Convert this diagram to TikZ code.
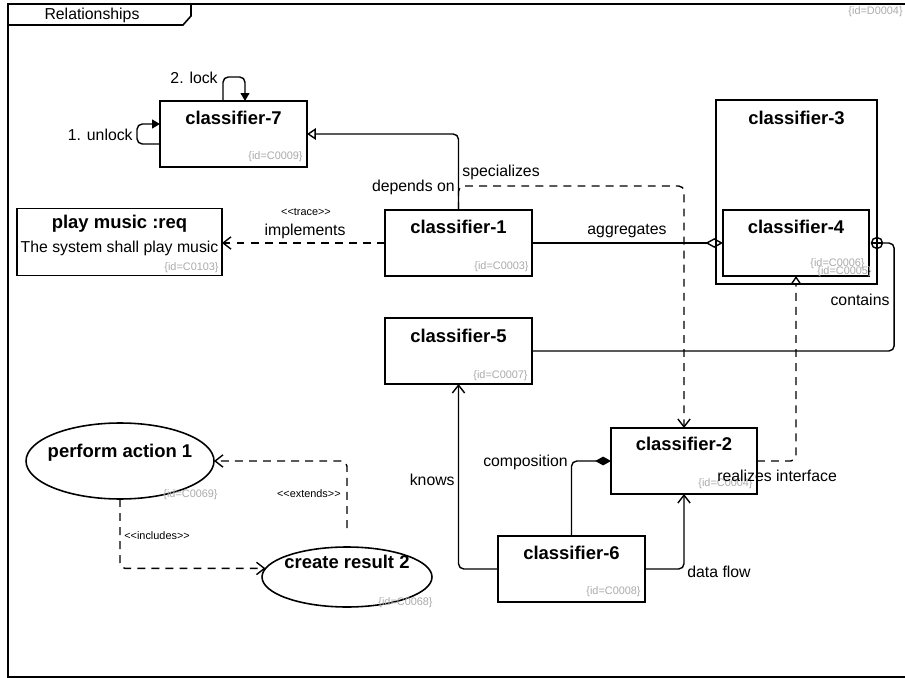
\documentclass[tikz,border=0pt]{standalone}
\usepackage{fontspec}
\setmainfont{Liberation Sans}
\usetikzlibrary{arrows.meta,shapes.geometric}

\definecolor{idgray}{RGB}{170,170,170}

\tikzset{
  cls/.style={draw,line width=1pt,inner sep=0pt,outer sep=0pt,minimum width=2.94cm,minimum height=1.32cm},
  usecase/.style={draw,ellipse,line width=0.9pt,inner sep=0pt,outer sep=0pt},
  ttl/.style={font=\fontsize{10.5}{12}\selectfont\bfseries,inner sep=0pt},
  lbl/.style={font=\fontsize{9}{11}\selectfont,inner sep=0pt},
  stereo/.style={font=\fontsize{6.2}{7}\selectfont,inner sep=0pt},
  idlbl/.style={font=\fontsize{6.2}{7}\selectfont,text=idgray,anchor=south east,inner sep=0pt},
  conn/.style={line width=0.8pt,rounded corners=3pt},
  dep/.style={conn,dash pattern=on 4.5pt off 3.5pt},
  barb/.style={-{Straight Barb[length=4.5pt,width=7pt]}},
  gen/.style={-{Triangle[open,length=5pt,width=6.5pt]}},
  fullhead/.style={-{Triangle[length=4.5pt,width=5pt]}},
  aggr/.style={-{Diamond[open,length=10pt,width=5.5pt]}},
  compo/.style={-{Diamond[length=9pt,width=5pt]}}
}

% guillemet-free stereotype brackets
\newcommand{\stl}{<\kern0pt<}
\newcommand{\str}{>\kern0pt>}

\begin{document}
\begin{tikzpicture}[x=0.02cm,y=-0.02cm]

\useasboundingbox (0,0) rectangle (905,678);

% frame and its tab
\draw[line width=1pt] (8,4) rectangle (915,677);
\draw[line width=0.9pt] (8,25) -- (183,25) -- (191,16) -- (191,4);
\node[lbl] (frametitle) at (92,15) {Relationships};
\node[idlbl,anchor=east] (frameid) at (903,12) {\{id=D0004\}};

% classifiers
\node[cls] (c7) at (233.5,134) {};
\node[cls] (c1) at (458.5,243) {};
\node[cls,minimum width=4.1cm,minimum height=1.34cm] (req) at (119.5,242) {};
\node[cls,minimum width=3.22cm,minimum height=3.68cm] (c3) at (796.5,192) {};
\node[cls,minimum width=2.92cm] (c4) at (796,243) {};
\node[cls] (c5) at (458.5,351) {};
\node[cls,minimum width=2.92cm] (c2) at (684,461) {};
\node[cls] (c6) at (571.5,569) {};

\node[ttl] (c7t) at ([yshift=-0.34cm]c7.north) {classifier-7};
\node[ttl] (c1t) at ([yshift=-0.34cm]c1.north) {classifier-1};
\node[ttl] (reqt) at ([yshift=-0.31cm]req.north) {play music :req};
\node[lbl] (reqd) at ([yshift=-0.79cm]req.north) {The system shall play music};
\node[ttl] (c3t) at ([yshift=-0.36cm]c3.north) {classifier-3};
\node[ttl] (c4t) at ([yshift=-0.34cm]c4.north) {classifier-4};
\node[ttl] (c5t) at ([yshift=-0.36cm]c5.north) {classifier-5};
\node[ttl] (c2t) at ([yshift=-0.32cm]c2.north) {classifier-2};
\node[ttl] (c6t) at ([yshift=-0.34cm]c6.north) {classifier-6};

\node[idlbl] (c7id) at ([shift={(-0.08cm,0.09cm)}]c7.south east) {\{id=C0009\}};
\node[idlbl] (c1id) at ([shift={(-0.06cm,0.07cm)}]c1.south east) {\{id=C0003\}};
\node[idlbl] (reqid) at ([shift={(-0.06cm,0.05cm)}]req.south east) {\{id=C0103\}};
\node[idlbl] (c3id) at ([shift={(-0.1cm,0.13cm)}]c3.south east) {\{id=C0005\}};
\node[idlbl] (c4id) at ([shift={(-0.08cm,0.13cm)}]c4.south east) {\{id=C0006\}};
\node[idlbl] (c5id) at ([shift={(-0.08cm,0.05cm)}]c5.south east) {\{id=C0007\}};
\node[idlbl] (c2id) at ([shift={(-0.08cm,0.09cm)}]c2.south east) {\{id=C0004\}};
\node[idlbl] (c6id) at ([shift={(-0.08cm,0.09cm)}]c6.south east) {\{id=C0008\}};

% use cases
\node[usecase,minimum width=3.76cm,minimum height=1.52cm] (uc1) at (120,461) {};
\node[usecase,minimum width=3.4cm,minimum height=1.2cm] (uc2) at (347,577) {};
\node[ttl] (uc1t) at (120,453) {perform action 1};
\node[ttl] (uc2t) at (347,562) {create result 2};
\node[idlbl] (uc1id) at ([shift={(0.08cm,-0.03cm)}]uc1.south -| uc1.east) {\{id=C0069\}};
\node[idlbl] (uc2id) at ([shift={(0.02cm,-0.03cm)}]uc2.south -| uc2.east) {\{id=C0068\}};

% self loops on classifier-7
\draw[conn,fullhead] ([xshift=-0.21cm]c7.north) -- ++(0,-24) -| ([xshift=0.23cm]c7.north);
\draw[conn,fullhead] ([yshift=-0.2cm]c7.west) -- ++(-23,0) |- ([yshift=0.2cm]c7.west);
\node[lbl,anchor=east] (lockl) at (218,78) {2. lock};
\node[lbl,anchor=east] (unlockl) at (133,135) {1. unlock};

% relations
\draw[conn,gen] (c1.north) |- (c7.east);
\draw[dep,barb] (c1.north) -- ++(0,-24) -| (c2.north);
\node[lbl,anchor=west] (specl) at (462,172) {specializes};
\node[lbl,anchor=east] (depl) at (455,187) {depends on};

\draw[dep,barb] (c1.west) -- (req.east |- c1.west);
\node[stereo] (tracel) at (306,212) {\stl trace\str};
\node[lbl] (impll) at (305,231) {implements};

\draw[conn,aggr] (c1.east) -- (c4.west);
\node[lbl] (aggl) at (627,231) {aggregates};

\node[circle,draw,line width=0.8pt,minimum size=0.22cm,inner sep=0pt] (cp) at (c3.east |- c4.east) {};
\draw[line width=0.8pt] (cp.north) -- (cp.south) (cp.west) -- (cp.east);
\draw[conn] (cp.east) -- ++(11,0) |- (c5.east);
\node[lbl] (contl) at (860,300) {contains};

\draw[conn,barb] (c6.west) -| (c5.south);
\node[lbl,anchor=east] (knowl) at (455,480) {knows};

\draw[conn,compo] (c6.north) |- (c2.west);
\node[lbl,anchor=east] (compl) at (568,462) {composition};

\draw[conn,barb] (c6.east) -| (c2.south);
\node[lbl,anchor=west] (flowl) at (687,572) {data flow};

\draw[dep,gen] (c2.east) -| (c4.south);
\node[lbl,anchor=west] (reall) at (717,476) {realizes interface};

\draw[dep,barb] (uc1.south) |- (uc2.174);
\node[stereo,anchor=west] (incl) at (124,536) {\stl includes\str};

\draw[dep,barb] ([yshift=0.38cm]uc2.north) |- (uc1.east);
\node[stereo,anchor=east] (extl) at (341,494) {\stl extends\str};

\end{tikzpicture}
\end{document}
